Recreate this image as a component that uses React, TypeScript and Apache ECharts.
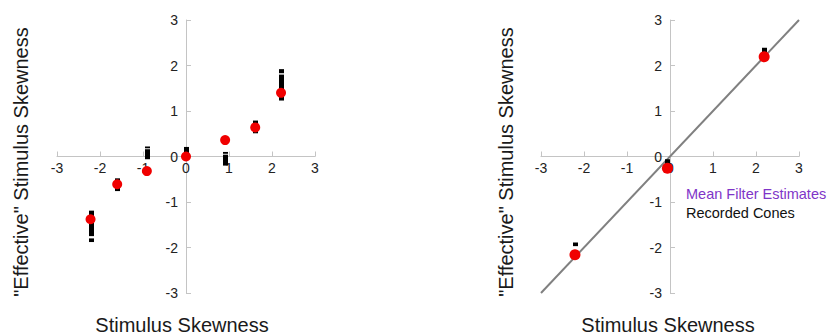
import React, { useEffect, useRef } from "react";
import * as echarts from "echarts";

const tickValues = [-3, -2, -1, 0, 1, 2, 3];

// Left panel: mean filter estimates (red) and recorded cones (black bars)
const leftFilterX = [-2.22, -1.6, -0.91, 0.0, 0.91, 1.61, 2.21];
const leftFilterY = [-1.38, -0.61, -0.32, 0.0, 0.36, 0.64, 1.4];
// recorded cones: [x, low, high]
const leftConeX = [-2.22, -2.22, -1.6, -0.91, -0.91, 0.0, 0.91, 0.91, 1.61, 2.21, 2.21];
const leftConeLow = [-1.75, -1.88, -0.76, -0.06, 0.18, 0.0, -0.2, 0.06, 0.51, 1.23, 1.83];
const leftConeHigh = [-1.19, -1.8, -0.48, 0.16, 0.22, 0.21, 0.04, 0.1, 0.79, 1.8, 1.92];

// Right panel
const rightFilterX = [-2.21, -0.06, 2.19];
const rightFilterY = [-2.16, -0.26, 2.19];
const rightConeX = [-2.21, -2.21, -0.06, 2.19];
const rightConeLow = [-2.25, -1.97, -0.19, 2.15];
const rightConeHigh = [-2.08, -1.89, -0.06, 2.39];
const identityX = [-3, 3];
const identityY = [-3, 3];

const xTitle = "Stimulus Skewness";
const yTitle = '"Effective" Stimulus Skewness';
const legendFilter = "Mean Filter Estimates";
const legendCones = "Recorded Cones";

const FONT = "Liberation Sans, Arial, sans-serif";

export default function App() {
  const ref = useRef<HTMLDivElement>(null);
  useEffect(() => {
    if (!ref.current) return;
    const chart = echarts.init(ref.current, undefined, { renderer: "svg" });

    const GRID_H = 273;
    const GRID_W = 258;

    const axisCommon = {
      type: "value",
      min: tickValues[0],
      max: tickValues[tickValues.length - 1],
      interval: 1,
      splitLine: { show: false },
      axisLine: { show: true, onZero: false, lineStyle: { color: "#c4c4c4", width: 1 } },
      axisTick: { show: true, inside: true, length: 5, lineStyle: { color: "#c4c4c4" } },
    };
    const xAxisCommon = {
      ...axisCommon,
      position: "bottom",
      offset: -GRID_H / 2,
      axisLabel: { color: "#222", fontSize: 14, fontFamily: FONT, margin: 4 },
    };
    const yAxisCommon = {
      ...axisCommon,
      position: "left",
      offset: -GRID_W / 2,
      axisLabel: { color: "#222", fontSize: 14, fontFamily: FONT, margin: 8 },
    };

    const coneRender = (params: any, api: any) => {
      const x = api.value(0);
      const lo = api.value(1);
      const hi = api.value(2);
      const p1 = api.coord([x, hi]);
      const p2 = api.coord([x, lo]);
      const cx = Math.round(p1[0]) + 0.5;
      return {
        type: "line",
        shape: { x1: cx, y1: p1[1], x2: cx, y2: p2[1] },
        style: { stroke: "#000", lineWidth: 5, lineCap: "butt", fill: null },
      };
    };

    const leftCones = leftConeX.map((x, i) => [x, leftConeLow[i], leftConeHigh[i]]);
    const rightCones = rightConeX.map((x, i) => [x, rightConeLow[i], rightConeHigh[i]]);

    chart.setOption({
      animation: false,
      grid: [
        { left: 57, width: GRID_W, top: 20, height: GRID_H },
        { left: 541, width: GRID_W, top: 20, height: GRID_H },
      ],
      xAxis: [
        { ...xAxisCommon, gridIndex: 0 },
        { ...xAxisCommon, gridIndex: 1 },
      ],
      yAxis: [
        { ...yAxisCommon, gridIndex: 0 },
        { ...yAxisCommon, gridIndex: 1 },
      ],
      series: [
        {
          type: "custom",
          xAxisIndex: 0,
          yAxisIndex: 0,
          renderItem: coneRender,
          encode: { x: 0, y: [1, 2] },
          data: leftCones,
          z: 3,
        },
        {
          type: "scatter",
          xAxisIndex: 0,
          yAxisIndex: 0,
          symbolSize: 10,
          itemStyle: { color: "#f00000", opacity: 1 },
          data: leftFilterX.map((x, i) => [x, leftFilterY[i]]),
          z: 4,
        },
        {
          type: "line",
          xAxisIndex: 1,
          yAxisIndex: 1,
          showSymbol: false,
          lineStyle: { color: "#808080", width: 2 },
          data: identityX.map((x, i) => [x, identityY[i]]),
          z: 2,
        },
        {
          type: "custom",
          xAxisIndex: 1,
          yAxisIndex: 1,
          renderItem: coneRender,
          encode: { x: 0, y: [1, 2] },
          data: rightCones,
          z: 3,
        },
        {
          type: "scatter",
          xAxisIndex: 1,
          yAxisIndex: 1,
          symbolSize: 11,
          itemStyle: { color: "#f00000", opacity: 1 },
          data: rightFilterX.map((x, i) => [x, rightFilterY[i]]),
          z: 4,
        },
      ],
      graphic: [
        {
          type: "text",
          x: 182,
          y: 325,
          style: { text: xTitle, font: `20px ${FONT}`, fill: "#1a1a1a", textAlign: "center", textVerticalAlign: "middle" },
        },
        {
          type: "text",
          x: 668,
          y: 325,
          style: { text: xTitle, font: `20px ${FONT}`, fill: "#1a1a1a", textAlign: "center", textVerticalAlign: "middle" },
        },
        {
          type: "text",
          x: 21,
          y: 162,
          rotation: Math.PI / 2,
          style: { text: yTitle, font: `20px ${FONT}`, fill: "#1a1a1a", textAlign: "center", textVerticalAlign: "middle" },
        },
        {
          type: "text",
          x: 506,
          y: 162,
          rotation: Math.PI / 2,
          style: { text: yTitle, font: `20px ${FONT}`, fill: "#1a1a1a", textAlign: "center", textVerticalAlign: "middle" },
        },
        {
          type: "text",
          x: 686,
          y: 194,
          style: { text: legendFilter, font: `14.5px ${FONT}`, fill: "#8035c8", textAlign: "left", textVerticalAlign: "middle" },
        },
        {
          type: "text",
          x: 686,
          y: 213,
          style: { text: legendCones, font: `14.5px ${FONT}`, fill: "#111", textAlign: "left", textVerticalAlign: "middle" },
        },
      ],
    });
    return () => chart.dispose();
  }, []);
  return (
    <div
      ref={ref}
      style={{ position: "fixed", left: 0, top: 0, width: 827, height: 336, background: "#fff" }}
    />
  );
}
